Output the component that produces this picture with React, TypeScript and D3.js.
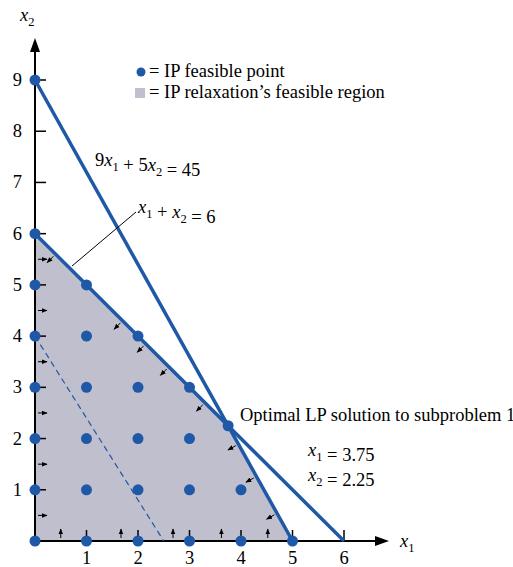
import React from "react";
import * as d3 from "d3";

const W = 513, H = 567;
const feasiblePoints: [number, number][] = [
  [0,0],[0,1],[0,2],[0,3],[0,4],[0,5],[0,6],[0,9],
  [1,0],[1,1],[1,2],[1,3],[1,4],[1,5],
  [2,0],[2,1],[2,2],[2,3],[2,4],
  [3,0],[3,1],[3,2],[3,3],
  [4,0],[4,1],[5,0],
  [3.75,2.25],
];
const region: [number, number][] = [[0,0],[0,6],[3.75,2.25],[5,0]];
const line1: [number, number][] = [[0,9],[5,0]];   // 9x1+5x2=45
const line2: [number, number][] = [[0,6],[6,0]];   // x1+x2=6
const objLine: [number, number][] = [[0,4],[2.5,0]]; // 8x1+5x2=20
const xTicks = [1,2,3,4,5,6];
const yTicks = [1,2,3,4,5,6,7,8,9];
const yAxisArrows = [0.5,1.5,2.5,3.5,4.5,5.5];
const xAxisArrows = [0.5,1.67,2.68,3.62,4.52];
const line2Arrows = [0.4,1.7,2.15,2.6,3.3];
const line1Arrows = [3.95,4.3,4.7];

const BLUE = "#1f58a6";
const FS = 18.5;
const SFS = 12.5;

export default function App() {
  const x = d3.scaleLinear().domain([0,6]).range([35,344]);
  const y = d3.scaleLinear().domain([0,9]).range([541,80]);
  const ln = d3.line<[number,number]>().x(d => x(d[0])).y(d => y(d[1]));

  const inward = (px: number, py: number, nx: number, ny: number, key: string) => {
    const len = Math.hypot(nx, ny); const ux = nx/len, uy = ny/len;
    const x0 = px + ux*3, y0 = py + uy*3, x1 = px + ux*12, y1 = py + uy*12;
    return <line key={key} x1={x0} y1={y0} x2={x1} y2={y1} stroke="#000" strokeWidth={1} markerEnd="url(#sm)" />;
  };

  const sub = (base: string, s: string) => (
    <>
      <tspan fontStyle="italic">{base}</tspan>
      <tspan fontSize={SFS} dy={5}>{s}</tspan>
      <tspan dy={-5}></tspan>
    </>
  );

  const f = "'Liberation Serif', 'Times New Roman', serif";

  return (
    <svg width={W} height={H} style={{position:"absolute", left:0, top:0}} fontFamily={f}>
      <defs>
        <marker id="sm" viewBox="0 0 10 10" refX="9" refY="5" markerWidth="6" markerHeight="6" orient="auto" markerUnits="userSpaceOnUse">
          <path d="M0,1 L10,5 L0,9 z" fill="#000" />
        </marker>
      </defs>
      <rect width={W} height={H} fill="#fff" />
      <path d={ln(region)! + "Z"} fill="#bfbfcd" />
      {/* axes */}
      <line x1={x(0)} y1={y(0)} x2={x(0)} y2={48} stroke="#000" strokeWidth={2} />
      <path d={`M${x(0)},38 L${x(0)-5},52 L${x(0)+5},52 Z`} fill="#000" />
      <line x1={x(0)} y1={y(0)} x2={378} y2={y(0)} stroke="#000" strokeWidth={2} />
      <path d={`M389,${y(0)} L375,${y(0)-5} L375,${y(0)+5} Z`} fill="#000" />
      {yTicks.map(t => <line key={"yt"+t} x1={x(0)} x2={x(0)+11} y1={y(t)} y2={y(t)} stroke="#000" strokeWidth={1.5} />)}
      {xTicks.map(t => <line key={"xt"+t} x1={x(t)} x2={x(t)} y1={y(0)} y2={y(0)-11} stroke="#000" strokeWidth={1.5} />)}
      {yTicks.map(t => <text key={"yl"+t} x={22} y={y(t)+6} textAnchor="end" fontSize={FS}>{t}</text>)}
      {xTicks.map(t => <text key={"xl"+t} x={x(t)} y={564} textAnchor="middle" fontSize={FS}>{t}</text>)}
      <text x={20} y={21} fontSize={FS}>{sub("x","2")}</text>
      <text x={400} y={547} fontSize={FS}>{sub("x","1")}</text>
      {/* small arrows */}
      {yAxisArrows.map(v => inward(x(0), y(v), 1, 0, "ya"+v))}
      {xAxisArrows.map(v => inward(x(v), y(0), 0, -1, "xa"+v))}
      {line2Arrows.map(v => inward(x(v), y(6-v), -1, 1, "l2"+v))}
      {line1Arrows.map(v => inward(x(v), y((45-9*v)/5), -9, 5, "l1"+v))}
      {/* lines */}
      <path d={ln(objLine)!} stroke={BLUE} strokeWidth={1.2} strokeDasharray="6,4" fill="none" />
      <path d={ln(line1)!} stroke={BLUE} strokeWidth={3.5} fill="none" />
      <path d={ln(line2)!} stroke={BLUE} strokeWidth={3.5} fill="none" />
      {feasiblePoints.map((p,i) => <circle key={"p"+i} cx={x(p[0])} cy={y(p[1])} r={5.5} fill={BLUE} />)}
      {/* leader */}
      <line x1={72} y1={266} x2={136} y2={212} stroke="#000" strokeWidth={1} />
      {/* legend */}
      <circle cx={141} cy={72} r={4.5} fill={BLUE} />
      <text x={149} y={77} fontSize={FS}>= IP feasible point</text>
      <rect x={135} y={88} width={10} height={10} fill="#bfbfcd" />
      <text x={149} y={98} fontSize={FS}>= IP relaxation’s feasible region</text>
      {/* labels */}
      <text x={95} y={166} fontSize={FS}>
        <tspan>9</tspan>{sub("x","1")}<tspan> + 5</tspan>{sub("x","2")}<tspan> = 45</tspan>
      </text>
      <text x={138} y={213} fontSize={FS}>
        {sub("x","1")}<tspan> + </tspan>{sub("x","2")}<tspan> = 6</tspan>
      </text>
      <text x={240} y={421} fontSize={FS}>Optimal LP solution to subproblem 1</text>
      <text x={308} y={456} fontSize={FS}>{sub("x","1")}<tspan> = 3.75</tspan></text>
      <text x={308} y={481} fontSize={FS}>{sub("x","2")}<tspan> = 2.25</tspan></text>
    </svg>
  );
}
